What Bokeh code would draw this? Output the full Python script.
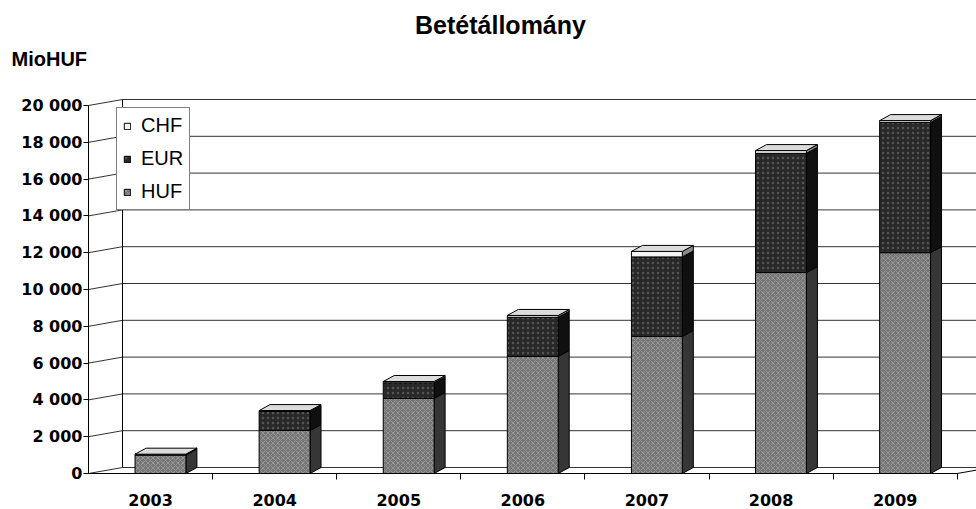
import numpy as np
from bokeh.plotting import figure
from bokeh.models import Range1d, FixedTicker, Legend, LegendItem, Label
from bokeh.embed import file_html
from bokeh.resources import INLINE

# ---------------- data ----------------
title_text = "Betétállomány"
unit_text = "MioHUF"
years = ["2003", "2004", "2005", "2006", "2007", "2008", "2009"]
huf = [1000, 2340, 4080, 6360, 7450, 10920, 12000]
eur = [50, 1030, 850, 2130, 4320, 6480, 7080]
chf = [0, 50, 70, 100, 300, 150, 100]
y_ticks = [0, 2000, 4000, 6000, 8000, 10000, 12000, 14000, 16000, 18000, 20000]
y_tick_labels = ["0", "2 000", "4 000", "6 000", "8 000", "10 000",
                 "12 000", "14 000", "16 000", "18 000", "20 000"]

# ---------------- layout constants (pixels) ----------------
W, H = 976, 509
AXIS_X_PX = 88          # left (front) value axis
ZERO_Y_PX = 473         # front zero line
PX_PER_CAT = 124.1
PX_PER_UNIT = 0.0184    # pixels per 1 MioHUF

SANS = "Liberation Sans"
WIDE = "DejaVu Sans"
n = len(years)
x_left = -0.5 - AXIS_X_PX / PX_PER_CAT
x_right = -0.5 + (W - AXIS_X_PX) / PX_PER_CAT
y_top = ZERO_Y_PX / PX_PER_UNIT
y_bottom = -(H - ZERO_Y_PX) / PX_PER_UNIT

WALL_DX = 34 / PX_PER_CAT
WALL_DY = 6 / PX_PER_UNIT
BAR_SHIFT = 0.08
BAR_W = 0.41
SIDE_DX = 11 / PX_PER_CAT
SIDE_DY = 6 / PX_PER_UNIT
GRID_COLOR = "#333333"

p = figure(width=W, height=H,
           x_range=Range1d(x_left, x_right), y_range=Range1d(y_bottom, y_top),
           output_backend="svg", toolbar_location=None,
           min_border_left=0, min_border_right=0,
           min_border_top=0, min_border_bottom=0)
p.outline_line_color = None
p.xgrid.visible = False
p.ygrid.visible = False
p.background_fill_color = "white"
p.border_fill_color = "white"

# ---------------- back wall / floor ----------------
k = len(y_ticks)
left_x = -0.5
gx0 = [left_x] * k
gy0 = list(y_ticks)
gx1 = [left_x + WALL_DX] * k
gy1 = [t + WALL_DY for t in y_ticks]
p.segment(x0=gx0, y0=gy0, x1=gx1, y1=gy1, line_color=GRID_COLOR, line_width=1)
p.segment(x0=gx1, y0=gy1, x1=[x_right] * k, y1=gy1, line_color=GRID_COLOR, line_width=1)
p.segment(x0=[left_x + WALL_DX], y0=[WALL_DY], x1=[left_x + WALL_DX],
          y1=[y_ticks[-1] + WALL_DY], line_color="black", line_width=1)
p.segment(x0=[n - 0.5], y0=[0], x1=[n - 0.5 + WALL_DX], y1=[WALL_DY],
          line_color="black", line_width=1)

# ---------------- bars ----------------
xc = np.arange(n) + BAR_SHIFT
xl = xc - BAR_W / 2
xr = xc + BAR_W / 2

series = [
    ("HUF", np.array(huf, float), "#767676", "#363636", "diagonal_cross", "#cfcfcf", 0.35),
    ("EUR", np.array(eur, float), "#282828", "#101010", "dot", "#8a8a8a", 0.45),
    ("CHF", np.array(chf, float), "#f4f4f4", "#8a8a8a", " ", "#ffffff", 0.0),
]

renderers = {}
base = np.zeros(n)
for name, vals, front, side, hp, hc, ha in series:
    top = base + vals
    xs = [[r, r + SIDE_DX, r + SIDE_DX, r] for r in xr]
    ys = [[b, b + SIDE_DY, t + SIDE_DY, t] for b, t in zip(base, top)]
    p.patches(xs=xs, ys=ys, fill_color=side, line_color="black", line_width=1)
    r = p.vbar(x=xc, width=BAR_W, bottom=base, top=top, fill_color=front,
               line_color="black", line_width=1,
               hatch_pattern=hp, hatch_color=hc, hatch_alpha=ha,
               hatch_scale=5, hatch_weight=1)
    renderers[name] = r
    base = top

xs = [[l, l + SIDE_DX, r + SIDE_DX, r] for l, r in zip(xl, xr)]
ys = [[t, t + SIDE_DY, t + SIDE_DY, t] for t in base]
p.patches(xs=xs, ys=ys, fill_color="#dcdcdc", line_color="black", line_width=1)

# ---------------- axes ----------------
yax = p.yaxis[0]
yax.fixed_location = -0.5
yax.ticker = FixedTicker(ticks=y_ticks)
yax.major_label_overrides = {t: l for t, l in zip(y_ticks, y_tick_labels)}
yax.bounds = (0, y_ticks[-1])
yax.minor_tick_line_color = None
yax.major_tick_in = 0
yax.major_tick_out = 5
yax.major_label_standoff = 1
yax.major_label_text_font = WIDE
yax.major_label_text_font_size = "16px"
yax.major_label_text_font_style = "bold"
yax.major_label_text_color = "black"
yax.axis_line_color = "black"
yax.major_tick_line_color = "black"

xax = p.xaxis[0]
xax.fixed_location = 0
centers = list(range(n))
xax.ticker = FixedTicker(ticks=centers, minor_ticks=[i + 0.5 for i in range(n)])
xax.major_label_overrides = {c: y for c, y in zip(centers, years)}
xax.bounds = (-0.5, n - 0.5)
xax.major_tick_in = 0
xax.major_tick_out = 0
xax.minor_tick_in = 0
xax.minor_tick_out = 6
xax.minor_tick_line_color = "black"
xax.major_label_standoff = 14
xax.major_label_text_font = WIDE
xax.major_label_text_font_size = "16px"
xax.major_label_text_font_style = "bold"
xax.major_label_text_color = "black"
xax.axis_line_color = "black"

# ---------------- texts ----------------
p.add_layout(Label(x=500, y=H - 24, x_units="screen", y_units="screen",
                   text=title_text, text_font=SANS, text_font_style="bold",
                   text_font_size="25px", text_align="center",
                   text_baseline="alphabetic", text_color="black"))
p.add_layout(Label(x=11, y=H - 58, x_units="screen", y_units="screen",
                   text=unit_text, text_font=SANS, text_font_style="bold",
                   text_font_size="20px", text_align="left",
                   text_baseline="alphabetic", text_color="black"))

# ---------------- legend ----------------
legend = Legend(items=[LegendItem(label="CHF", renderers=[renderers["CHF"]]),
                       LegendItem(label="EUR", renderers=[renderers["EUR"]]),
                       LegendItem(label="HUF", renderers=[renderers["HUF"]])],
                location=(116, H - 210))
legend.border_line_color = "black"
legend.border_line_width = 1
legend.background_fill_color = "white"
legend.background_fill_alpha = 1.0
legend.padding = 6
legend.spacing = 10
legend.margin = 0
legend.label_height = 21
legend.label_width = 41
legend.glyph_width = 8
legend.glyph_height = 8
legend.label_standoff = 10
legend.label_text_font = SANS
legend.label_text_font_size = "20px"
legend.label_text_color = "black"
p.add_layout(legend)

open("out.html", "w").write(file_html(p, INLINE))
